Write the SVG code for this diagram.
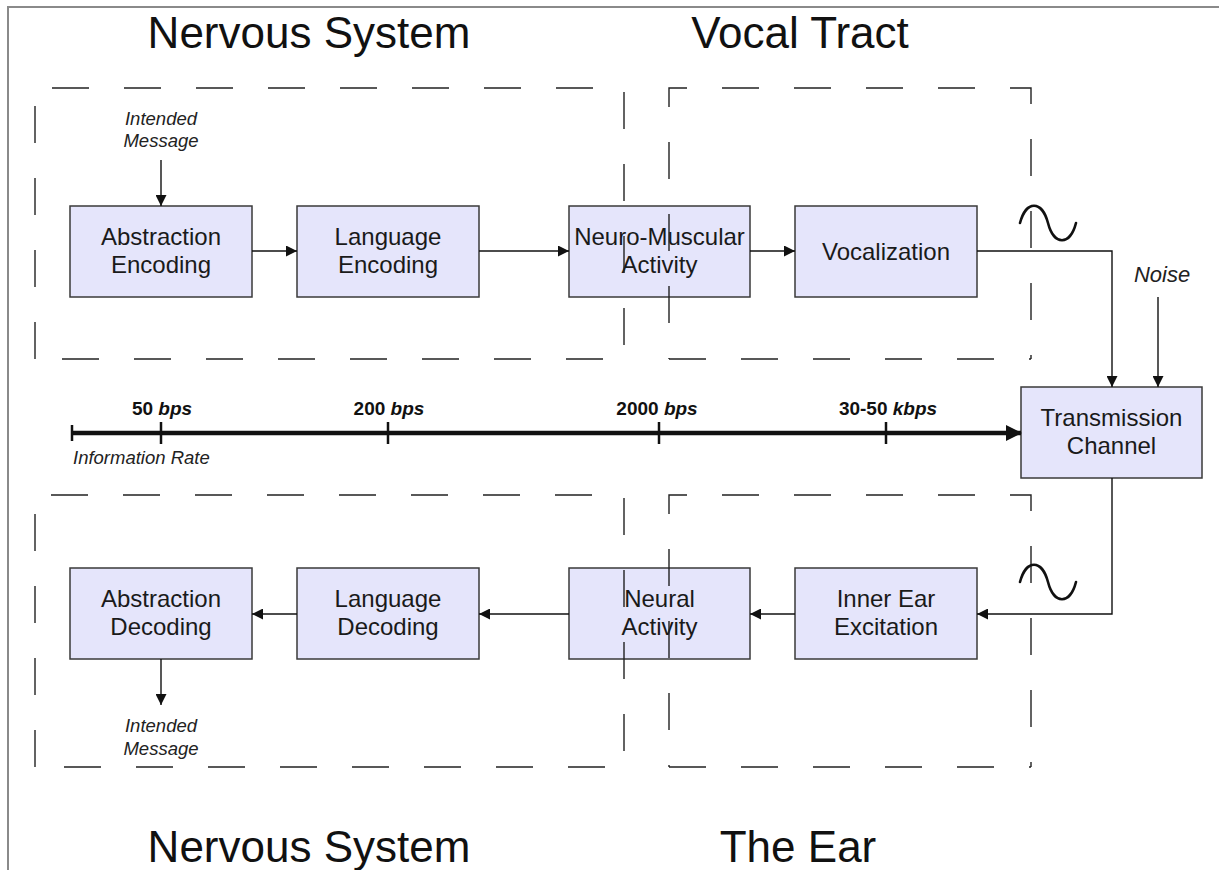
<svg xmlns="http://www.w3.org/2000/svg" width="1219" height="870" viewBox="0 0 1219 870">
<defs>
<style>
.node rect{fill:#e5e5fb;stroke:#3a3a3a;stroke-width:1.5}
.node text{font-family:"Liberation Sans",Arial,sans-serif;font-size:24px;fill:#1a1a1a;text-anchor:middle}
.title{font-family:"Liberation Sans",Arial,sans-serif;font-size:44px;fill:#111;text-anchor:middle}
.dash{fill:none;stroke:#222;stroke-width:1.4;stroke-dasharray:37 35}
.conn{fill:none;stroke:#111;stroke-width:1.4}
.ital{font-family:"Liberation Sans",Arial,sans-serif;font-style:italic;fill:#222}
.rate{font-family:"Liberation Sans",Arial,sans-serif;font-weight:bold;font-size:19px;fill:#111;text-anchor:middle}
.sine{fill:none;stroke:#111;stroke-width:2.6;stroke-linecap:round}
</style>
<marker id="ah" viewBox="0 0 11 11" refX="11" refY="5.5" markerWidth="11" markerHeight="11" markerUnits="userSpaceOnUse" orient="auto"><path d="M0,0 L11,5.5 L0,11 z" fill="#111"/></marker>
<marker id="ahb" viewBox="0 0 16 16" refX="15" refY="8" markerWidth="16" markerHeight="16" markerUnits="userSpaceOnUse" orient="auto"><path d="M0,0 L16,8 L0,16 z" fill="#111"/></marker>
</defs>
<rect width="1219" height="870" fill="#fff"/>
<path d="M8,870 V7 H1219" fill="none" stroke="#8a8a8a" stroke-width="2"/>

<text class="title" x="309" y="48">Nervous System</text>
<text class="title" x="800" y="48">Vocal Tract</text>
<text class="title" x="309" y="862">Nervous System</text>
<text class="title" x="798" y="862">The Ear</text>

<g id="n-abs-enc" class="node"><rect x="70" y="206" width="182" height="91"/><text x="161" y="245">Abstraction</text><text x="161" y="273">Encoding</text></g>
<g id="n-lang-enc" class="node"><rect x="297" y="206" width="182" height="91"/><text x="388" y="245">Language</text><text x="388" y="273">Encoding</text></g>
<g id="n-neuromusc" class="node"><rect x="569" y="206" width="181" height="91"/><text x="659.5" y="245">Neuro-Muscular</text><text x="659.5" y="273">Activity</text></g>
<g id="n-vocal" class="node"><rect x="795" y="206" width="182" height="91"/><text x="886" y="260">Vocalization</text></g>
<g id="n-trans" class="node"><rect x="1021" y="387" width="181" height="91"/><text x="1111.5" y="426">Transmission</text><text x="1111.5" y="454">Channel</text></g>
<g id="n-abs-dec" class="node"><rect x="70" y="568" width="182" height="91"/><text x="161" y="607">Abstraction</text><text x="161" y="635">Decoding</text></g>
<g id="n-lang-dec" class="node"><rect x="297" y="568" width="182" height="91"/><text x="388" y="607">Language</text><text x="388" y="635">Decoding</text></g>
<g id="n-neural" class="node"><rect x="569" y="568" width="181" height="91"/><text x="659.5" y="607">Neural</text><text x="659.5" y="635">Activity</text></g>
<g id="n-innerear" class="node"><rect x="795" y="568" width="182" height="91"/><text x="886" y="607">Inner Ear</text><text x="886" y="635">Excitation</text></g>

<g id="regions">
<path class="dash" d="M35,359 V88 H624 V359 Z"/>
<path class="dash" d="M669,359 V88 H1031 V359" stroke-dashoffset="36"/>
<path class="dash" d="M669,359 H1031"/>
<path class="dash" d="M35,767 V495 H624 V767 Z"/>
<path class="dash" d="M669,767 V495 H1031 V767" stroke-dashoffset="35"/>
<path class="dash" d="M669,767 H1031"/>
</g>

<g id="connectors">
<line class="conn" x1="161" y1="160" x2="161" y2="206" marker-end="url(#ah)"/>
<line class="conn" x1="252" y1="251" x2="297" y2="251" marker-end="url(#ah)"/>
<line class="conn" x1="479" y1="251" x2="569" y2="251" marker-end="url(#ah)"/>
<line class="conn" x1="750" y1="251" x2="795" y2="251" marker-end="url(#ah)"/>
<polyline class="conn" points="977,251 1112,251 1112,387" marker-end="url(#ah)"/>
<line class="conn" x1="1158" y1="297" x2="1158" y2="387" marker-end="url(#ah)"/>
<polyline class="conn" points="1112,478 1112,614 977,614" marker-end="url(#ah)"/>
<line class="conn" x1="795" y1="614" x2="750" y2="614" marker-end="url(#ah)"/>
<line class="conn" x1="569" y1="614" x2="479" y2="614" marker-end="url(#ah)"/>
<line class="conn" x1="297" y1="614" x2="252" y2="614" marker-end="url(#ah)"/>
<line class="conn" x1="161" y1="659" x2="161" y2="705" marker-end="url(#ah)"/>
<line x1="72" y1="433" x2="1021" y2="433" stroke="#111" stroke-width="4.5" marker-end="url(#ahb)"/>
<g stroke="#111" stroke-width="2.5">
<line x1="72" y1="425" x2="72" y2="441"/>
<line x1="161" y1="422" x2="161" y2="444"/>
<line x1="388" y1="422" x2="388" y2="444"/>
<line x1="659" y1="422" x2="659" y2="444"/>
<line x1="886" y1="422" x2="886" y2="444"/>
</g>
<path class="sine" d="M1020,223 C1026,200 1042,200 1048,223 S1070,246 1076,223"/>
<path class="sine" d="M1020,582 C1026,559 1042,559 1048,582 S1070,605 1076,582"/>
</g>

<g id="labels">
<text class="ital" font-size="18.5" x="161" y="125" text-anchor="middle">Intended</text>
<text class="ital" font-size="18.5" x="161" y="147" text-anchor="middle">Message</text>
<text class="ital" font-size="18.5" x="161" y="732" text-anchor="middle">Intended</text>
<text class="ital" font-size="18.5" x="161" y="755" text-anchor="middle">Message</text>
<text class="ital" font-size="22" x="1162" y="282" text-anchor="middle">Noise</text>
<text class="ital" font-size="18.5" x="73" y="464">Information Rate</text>
<text class="rate" x="162" y="415">50 <tspan font-style="italic">bps</tspan></text>
<text class="rate" x="389" y="415">200 <tspan font-style="italic">bps</tspan></text>
<text class="rate" x="657" y="415">2000 <tspan font-style="italic">bps</tspan></text>
<text class="rate" x="888" y="415">30-50 <tspan font-style="italic">kbps</tspan></text>
</g>
</svg>
